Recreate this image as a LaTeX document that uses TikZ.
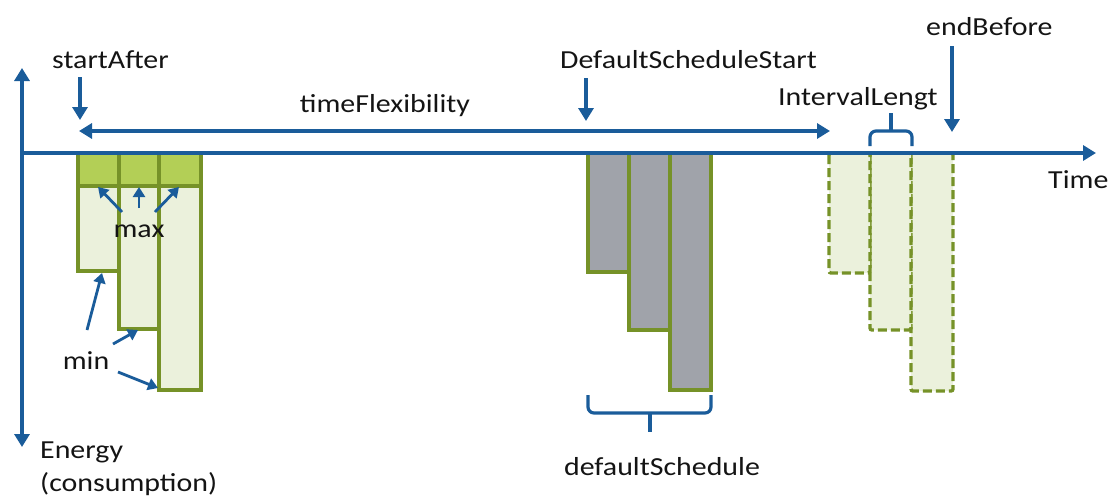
\documentclass[tikz,border=0pt]{standalone}
\usepackage{fontspec}
\setmainfont{Carlito}[FakeStretch=1.15]
\usetikzlibrary{arrows.meta}
\definecolor{axisblue}{RGB}{26,92,154}
\definecolor{barline}{RGB}{118,146,40}
\definecolor{maxfill}{RGB}{179,207,86}
\definecolor{lightfill}{RGB}{235,241,220}
\definecolor{greyfill}{RGB}{160,163,170}
\definecolor{txt}{RGB}{20,20,20}
\begin{document}
\begin{tikzpicture}[x=1pt,y=-1pt,
  axisline/.style={draw=axisblue, line width=3.4pt},
  ptr/.style={draw=axisblue, line width=3.2pt, -{Triangle[length=13pt,width=15pt]}},
  dptr/.style={draw=axisblue, line width=3.2pt, {Triangle[length=13pt,width=15pt]}-{Triangle[length=13pt,width=15pt]}},
  smallptr/.style={draw=axisblue, line width=2.8pt, -{Triangle[length=10pt,width=12pt]}},
  bracepath/.style={draw=axisblue, line width=3.2pt, rounded corners=6pt},
  lbl/.style={text=txt, font=\fontsize{26}{30}\selectfont, inner sep=0pt},
  flexbar/.style={draw=barline, line width=3.4pt, fill=lightfill},
  maxband/.style={draw=barline, line width=3.4pt, fill=maxfill},
  defbar/.style={draw=barline, line width=3.4pt, fill=greyfill},
  altbar/.style={draw=barline, line width=3.4pt, fill=lightfill, dash pattern=on 9pt off 4pt, rounded corners=2pt}
]
\useasboundingbox (0,0) rectangle (1110,498);

% flexible bars (energy between min and max)
\draw[flexbar] (159,153) rectangle (201,390);
\draw[flexbar] (119,153) rectangle (159,329);
\draw[flexbar] (78,153) rectangle (119,271);
\draw[maxband] (78,153) rectangle (119,186);
\draw[maxband] (119,153) rectangle (159,186);
\draw[maxband] (159,153) rectangle (201,186);

% default schedule bars
\draw[defbar] (670,153) rectangle (711,390);
\draw[defbar] (629,153) rectangle (670,330);
\draw[defbar] (588,153) rectangle (629,272);

% shifted schedule (dashed)
\draw[altbar] (911,153) rectangle (953,391);
\draw[altbar] (870,153) rectangle (911,330);
\draw[altbar] (829,153) rectangle (870,273);

% axes
\coordinate (origin) at (22,153);
\coordinate (etop) at (22,68);
\coordinate (ebot) at (22,447);
\coordinate (tend) at (1096,153);
\draw[axisline, {Triangle[length=13pt,width=15pt]}-{Triangle[length=13pt,width=15pt]}] (etop) -- (ebot);
\draw[axisline, -{Triangle[length=13pt,width=15pt]}] (origin) -- (tend);

% labels
\node[lbl, anchor=base west] (startAfter) at (52,68) {startAfter};
\node[lbl, anchor=base west] (dss) at (560,68) {DefaultScheduleStart};
\node[lbl, anchor=base west] (intlen) at (778,105) {IntervalLengt};
\node[lbl, anchor=base west] (endBefore) at (926,35) {endBefore};
\node[lbl, anchor=base west] (time) at (1048,188) {Time};
\node[lbl, anchor=base] (tflex) at (385,112) {timeFlexibility};
\node[lbl, anchor=base] (maxl) at (139,237) {max};
\node[lbl, anchor=base] (minl) at (86,369) {min};
\node[lbl, anchor=base west] (energy) at (40,458) {Energy};
\node[lbl, anchor=base west] (consumption) at (40,491) {(consumption)};
\node[lbl, anchor=base] (defsched) at (662,475) {defaultSchedule};

% markers on the time line
\coordinate (saTail) at (80,77);
\coordinate (saTip) at (80,120);
\draw[ptr] (saTail) -- (saTip);
\coordinate (dsTail) at (586,78);
\coordinate (dsTip) at (586,121);
\draw[ptr] (dsTail) -- (dsTip);
\coordinate (ebTail) at (952,46);
\coordinate (ebTip) at (952,132);
\draw[ptr] (ebTail) -- (ebTip);
\coordinate (tfL) at (79,131);
\coordinate (tfR) at (830,131);
\draw[dptr] (tfL) -- (tfR);

% max pointers
\coordinate (mx1) at (98,187);
\coordinate (mx2) at (139,187);
\coordinate (mx3) at (179,187);
\draw[smallptr] (122,212) -- (mx1);
\draw[smallptr] (139,208) -- (mx2);
\draw[smallptr] (155,212) -- (mx3);

% min pointers
\coordinate (mn1) at (102,273);
\coordinate (mn2) at (138,330);
\coordinate (mn3) at (158,388);
\draw[smallptr] (87,330) -- (mn1);
\draw[smallptr] (113,344) -- (mn2);
\draw[smallptr] (118,372) -- (mn3);

% braces
\draw[bracepath] (870,146) -- (870,131) -- (912,131) -- (912,146);
\draw[draw=axisblue, line width=3.2pt] (891,131) -- (891,113);
\draw[bracepath] (588,395) -- (588,413) -- (711,413) -- (711,395);
\draw[draw=axisblue, line width=3.2pt] (650,413) -- (650,432);
\end{tikzpicture}
\end{document}
